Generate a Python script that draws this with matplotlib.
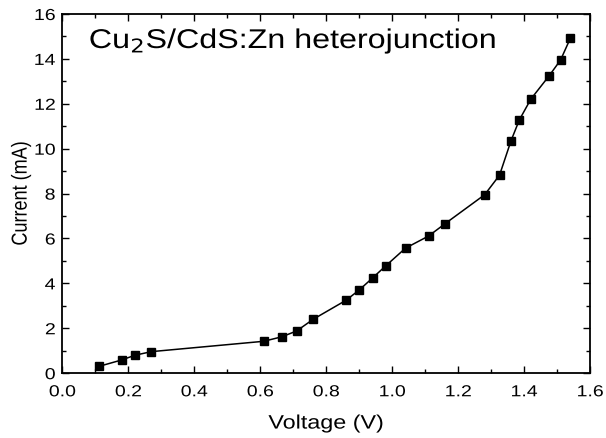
import matplotlib
matplotlib.use("Agg")
import matplotlib.pyplot as plt
from matplotlib.ticker import MultipleLocator
from matplotlib.patheffects import AbstractPathEffect
from matplotlib.transforms import Affine2D

plt.rcParams['font.family'] = ['Liberation Sans', 'DejaVu Sans']

# I-V data for the heterojunction
voltage = [0.11, 0.18, 0.22, 0.27, 0.61, 0.665, 0.71, 0.76, 0.86, 0.90, 0.94, 0.98,
           1.04, 1.11, 1.16, 1.28, 1.325, 1.36, 1.385, 1.42, 1.475, 1.51, 1.54]
current = [0.30, 0.59, 0.80, 0.96, 1.42, 1.62, 1.88, 2.40, 3.25, 3.71, 4.24, 4.78,
           5.57, 6.11, 6.66, 7.95, 8.82, 10.36, 11.28, 12.21, 13.24, 13.95, 14.93]


class Stretch(AbstractPathEffect):
    """Widen glyphs about an anchor (wide Arial look)."""

    def __init__(self, sx=1.0, sy=1.0, anchor='center'):
        super().__init__()
        self.sx, self.sy, self.anchor = sx, sy, anchor

    def draw_path(self, renderer, gc, tpath, affine, rgbFace=None):
        ext = tpath.get_extents()
        cx = {'left': 0.0, 'center': (ext.x0 + ext.x1) / 2, 'right': ext.x1}[self.anchor]
        cy = (ext.y0 + ext.y1) / 2
        t = Affine2D().translate(-cx, -cy).scale(self.sx, self.sy).translate(cx, cy) + affine
        renderer.draw_path(gc, tpath, t, rgbFace)


fig = plt.figure(figsize=(6.06, 4.38), dpi=100)
ax = fig.add_axes([0.103, 0.148, 0.871, 0.820])

ax.plot(voltage, current, color='black', lw=1.1, marker='s', ms=5.5)

ax.set_xlim(0.0, 1.6)
ax.set_ylim(0, 16)
ax.xaxis.set_major_locator(MultipleLocator(0.2))
ax.xaxis.set_minor_locator(MultipleLocator(0.1))
ax.yaxis.set_major_locator(MultipleLocator(2))
ax.yaxis.set_minor_locator(MultipleLocator(1))
ax.xaxis.set_major_formatter(plt.FuncFormatter(lambda v, p: f"{v:.1f}"))

ax.tick_params(which='both', direction='in', top=True, right=True, labelsize=11.5, width=1)
ax.tick_params(which='major', length=5)
ax.tick_params(which='minor', length=3)
ax.tick_params(axis='x', pad=8)
ax.tick_params(axis='y', pad=5)
for s in ax.spines.values():
    s.set_linewidth(1.3)

for lbl in ax.get_xticklabels():
    lbl.set_path_effects([Stretch(sx=1.22)])
for lbl in ax.get_yticklabels():
    lbl.set_path_effects([Stretch(sx=1.22, anchor='right')])

ax.set_xlabel('Voltage (V)', fontsize=14, path_effects=[Stretch(sx=1.2)])
ax.set_ylabel('Current (mA)', fontsize=13, path_effects=[Stretch(sy=1.2)])
ax.xaxis.set_label_coords(0.5, -0.118)
ax.yaxis.set_label_coords(-0.062, 0.5)

ax.text(0.05, 0.905, r'Cu$_2$S/CdS:Zn heterojunction', transform=ax.transAxes,
        fontsize=19.5, ha='left', va='baseline',
        path_effects=[Stretch(sx=1.19, anchor='left')])

fig.savefig('out.png', dpi=100)
